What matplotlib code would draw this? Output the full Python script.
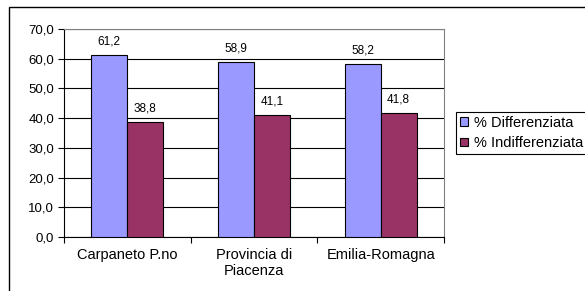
import matplotlib
matplotlib.use("Agg")
import matplotlib.pyplot as plt
from matplotlib.patches import Rectangle, Patch
import numpy as np

plt.rcParams['font.family'] = ['Liberation Sans', 'DejaVu Sans']

categories = ["Carpaneto P.no", "Provincia di\nPiacenza", "Emilia-Romagna"]
series_names = ["% Differenziata", "% Indifferenziata"]
differenziata = [61.2, 58.9, 58.2]
indifferenziata = [38.8, 41.1, 41.8]
yticks = [0, 10, 20, 30, 40, 50, 60, 70]

colors = ["#9999FF", "#993366"]

W, H = 585, 291
fig = plt.figure(figsize=(W / 100, H / 100), dpi=100)
ax = fig.add_axes([64 / W, 1 - 237 / H, (444 - 64) / W, (237 - 29) / H])

x = np.arange(len(categories))
bw = 0.284
b1 = ax.bar(x - bw / 2, differenziata, bw, color=colors[0], edgecolor='black', linewidth=0.8, zorder=3)
b2 = ax.bar(x + bw / 2, indifferenziata, bw, color=colors[1], edgecolor='black', linewidth=0.8, zorder=3)

for bars, vals in ((b1, differenziata), (b2, indifferenziata)):
    for rect, v in zip(bars, vals):
        ax.annotate(f"{v:.1f}".replace('.', ','), (rect.get_x() + rect.get_width() / 2, v),
                    xytext=(0, 5.5), textcoords='offset points', ha='center', va='bottom', fontsize=8.5)

ax.set_xlim(-0.5, len(categories) - 0.5)
ax.set_ylim(0, 70)
ax.set_yticks(yticks)
ax.set_yticklabels([f"{t:.1f}".replace('.', ',') for t in yticks], fontsize=9.5)
ax.yaxis.grid(True, color='black', linewidth=0.8, zorder=0)
ax.set_axisbelow(True)

ax.set_xticks(np.arange(len(categories) + 1) - 0.5)
ax.set_xticklabels([])
ax.set_xticks(x, minor=True)
ax.set_xticklabels(categories, minor=True, fontsize=10.5)
ax.tick_params(axis='x', which='minor', length=0, pad=8)
ax.tick_params(axis='x', which='major', length=4, width=0.8, direction='out')
ax.tick_params(axis='y', length=4, width=0.8, direction='out', pad=3)

ax.spines['left'].set_color('black')
ax.spines['bottom'].set_color('black')
ax.spines['top'].set_color('#808080')
ax.spines['right'].set_color('#808080')
for s in ax.spines.values():
    s.set_linewidth(0.8)

# Outer chart border (extends beyond the image to the right and bottom)
fig.patches.append(Rectangle((9 / W, -0.05), 1.1, 1 - 7 / H + 0.05, transform=fig.transFigure,
                             fill=False, edgecolor='black', linewidth=1.0))

handles = [Patch(facecolor=c, edgecolor='black', linewidth=0.8) for c in colors]
leg = fig.legend(handles, series_names, loc='upper left', bbox_to_anchor=(456 / W, 1 - 112 / H),
                 fontsize=10.5, frameon=True, fancybox=False, edgecolor='black', framealpha=1,
                 handlelength=0.55, handleheight=0.55, handletextpad=0.45, borderpad=0.25,
                 labelspacing=0.45, borderaxespad=0)
leg.get_frame().set_linewidth(0.8)

fig.savefig("out.png", dpi=100)
